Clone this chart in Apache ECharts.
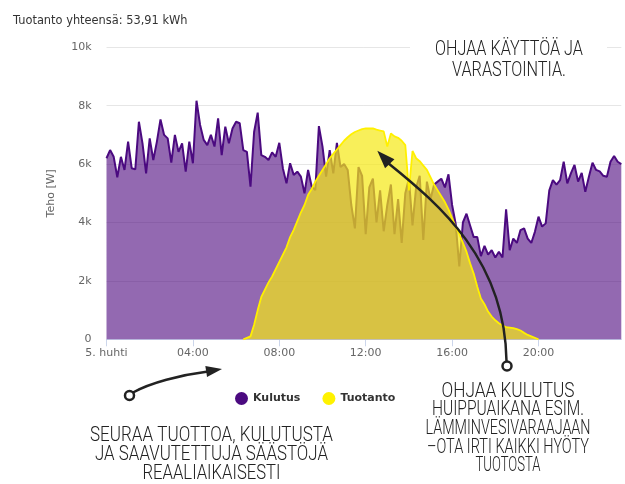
<!DOCTYPE html>
<html><head><meta charset="utf-8">
<script src="https://cdn.jsdelivr.net/npm/echarts@6/dist/echarts.min.js"></script>
<style>html,body{margin:0;padding:0;background:#fff}#c{width:625px;height:484px}</style>
</head><body><div id="c"></div>
<script>
const titleText = 'Tuotanto yhteensä: 53,91 kWh';
const yAxisName = 'Teho [W]';
const seriesNames = ['Kulutus', 'Tuotanto'];
const stepMinutes = 10;
// Kulutus (W), 10 min steps from 00:00
const kulutus = [
6200,6480,6250,5550,6250,5800,6770,5860,5820,7450,6710,5680,6880,6140,6770,7530,7000,6880,6050,7000,
6420,6710,5740,6770,6030,8170,7340,6830,6650,7000,6600,7570,6310,7280,6710,7220,7450,7400,6480,6420,
5230,7100,7760,6310,6250,6140,6400,6250,6730,5850,5340,6030,5630,5740,5570,5000,5800,5230,5110,7300,
6600,5570,6480,5680,6730,5900,6000,5800,4600,3800,5900,5600,3600,5200,5500,4000,5100,3700,4600,5300,
3600,4800,3300,5000,5500,3900,5200,5600,3400,5400,4800,5300,5400,5500,5200,5650,4600,3950,2500,4000,
4300,3900,3500,3500,2850,3200,2900,3050,2800,3000,2800,4450,3050,3450,3300,3740,3800,3450,3300,3680,
4200,3860,3970,5100,5450,5300,5450,6080,5340,5680,5970,5400,5700,5050,5570,6050,5800,5750,5600,5570,
6080,6280,6080,6000];
// Tuotanto (W)
const tuotanto = [
null,null,null,null,null,null,null,null,null,null,null,null,null,null,null,null,null,null,null,null,
null,null,null,null,null,null,null,null,null,null,null,null,null,null,null,null,null,null,0,50,
100,500,1000,1450,1700,1950,2150,2400,2650,2900,3150,3500,3750,4050,4350,4600,4950,5150,5400,5600,
5800,6000,6200,6350,6500,6650,6800,6920,7020,7100,7150,7200,7220,7220,7220,7180,7150,7120,6600,7050,
6950,6900,6800,6650,5100,6450,6200,6100,5950,5800,5550,5300,5100,4900,4700,4450,4150,3850,3600,3300,
3000,2600,2250,1800,1400,1200,950,780,650,550,470,420,400,380,350,300,220,150,100,50,
0,null,null,null,null,null,null,null,null,null,null,null,null,null,null,null,null,null,null,null,
null,null,null,null];
const xTickValues = [0, 4, 8, 12, 16, 20];
const xTickLabels = ['5. huhti', '04:00', '08:00', '12:00', '16:00', '20:00'];
const yTickValues = [0, 2000, 4000, 6000, 8000, 10000];
const yTickLabels = ['0', '2k', '4k', '6k', '8k', '10k'];

const noteTop = ['OHJAA KÄYTTÖÄ JA', 'VARASTOINTIA.'];
const noteLeft = ['SEURAA TUOTTOA, KULUTUSTA', 'JA SAAVUTETTUJA SÄÄSTÖJÄ', 'REAALIAIKAISESTI'];
const noteRight = ['OHJAA KULUTUS', 'HUIPPUAIKANA ESIM.', 'LÄMMINVESIVARAAJAAN', '–OTA IRTI KAIKKI HYÖTY', 'TUOTOSTA'];

const hours = kulutus.map((_, i) => i * stepMinutes / 60);
const kData = kulutus.map((v, i) => [hours[i], v]);
const tData = tuotanto.map((v, i) => [hours[i], v]);

const baseFont = 'DejaVu Sans';
const annoFont = '300 21px Roboto, "DejaVu Sans Condensed", sans-serif';
const mctx = document.createElement('canvas').getContext('2d');
mctx.font = annoFont;
function textLines(lines, cx, centers, widths) {
  return lines.map((t, k) => {
    const w = mctx.measureText(t).width;
    return {
      type: 'text', x: cx, y: centers[k], scaleX: widths[k] / w, z: 100,
      style: { text: t, x: 0, y: 0, align: 'center', verticalAlign: 'middle', font: annoFont, fill: '#222' }
    };
  });
}
function arrowHead(tip, from, len, half) {
  const dx = tip[0] - from[0], dy = tip[1] - from[1];
  const d = Math.hypot(dx, dy), ux = dx / d, uy = dy / d;
  const bx = tip[0] - ux * len, by = tip[1] - uy * len;
  return { type: 'polygon', z: 101, shape: { points: [tip, [bx - uy * half, by + ux * half], [bx + uy * half, by - ux * half]] }, style: { fill: '#222' } };
}

const chart = echarts.init(document.getElementById('c'), null, { renderer: 'canvas' });
chart.setOption({
  animation: false,
  backgroundColor: '#fff',
  title: {
    text: titleText, left: 8, top: 11,
    textStyle: { fontFamily: baseFont, fontSize: 11.4, fontWeight: 'normal', color: '#333' }
  },
  legend: {
    data: seriesNames, left: 230, top: 387, icon: 'circle', itemWidth: 13, itemHeight: 13, itemGap: 22,
    textStyle: { fontFamily: baseFont, fontSize: 11, fontWeight: 'bold', color: '#333' }
  },
  grid: { left: 106.5, right: 3.7, top: 47.3, bottom: 144.7 },
  xAxis: {
    type: 'value', min: 0, max: hours[hours.length - 1], interval: 4,
    axisLine: { lineStyle: { color: '#ccd6eb' } },
    axisTick: { show: true, length: 7, lineStyle: { color: '#ccd6eb' }, customValues: xTickValues },
    axisLabel: {
      customValues: xTickValues, margin: 8, color: '#666', fontFamily: baseFont, fontSize: 11,
      formatter: v => xTickLabels[xTickValues.indexOf(v)]
    },
    splitLine: { show: false }
  },
  yAxis: {
    type: 'value', min: 0, max: 10000, interval: 2000,
    name: yAxisName, nameLocation: 'middle', nameGap: 50, nameRotate: 90,
    nameTextStyle: { color: '#666', fontFamily: baseFont, fontSize: 11 },
    axisLine: { show: false }, axisTick: { show: false },
    axisLabel: { margin: 15, color: '#666', fontFamily: baseFont, fontSize: 11,
      formatter: v => yTickLabels[yTickValues.indexOf(v)] },
    splitLine: { lineStyle: { color: '#e6e6e6' } }
  },
  series: [
    {
      name: seriesNames[0], type: 'line', z: 2, data: kData, showSymbol: false, symbol: 'none',
      itemStyle: { color: '#4b0a80' },
      lineStyle: { color: '#4b0a80', width: 2 },
      areaStyle: { color: '#4b057d', opacity: 0.6 }
    },
    {
      name: seriesNames[1], type: 'line', z: 4, data: tData, showSymbol: false, symbol: 'none', connectNulls: false,
      itemStyle: { color: '#fff200' },
      lineStyle: { color: '#fff000', width: 1.8 },
      areaStyle: { color: '#f5e814', opacity: 0.7 }
    }
  ],
  graphic: [
    { type: 'rect', z: 99, shape: { x: 410, y: 35, width: 197, height: 50 }, style: { fill: '#fff' } },
    ...textLines(noteTop, 509, [49.5, 71], [148, 114]),
    ...textLines(noteLeft, 211.5, [436, 454.5, 474], [243, 233, 138]),
    ...textLines(noteRight, 508, [391.5, 410, 428.5, 447.5, 466], [133, 152, 165, 162, 65]),
    { type: 'bezierCurve', z: 100, shape: { x1: 133, y1: 392.5, cpx1: 150, cpy1: 383, cpx2: 180, cpy2: 375, x2: 208, y2: 371.5 },
      style: { stroke: '#222', lineWidth: 2.5, fill: null } },
    arrowHead([222, 369], [190, 374], 16, 5.5),
    { type: 'circle', z: 101, shape: { cx: 129.5, cy: 395.5, r: 4.5 }, style: { fill: '#fff', stroke: '#222', lineWidth: 2.5 } },
    { type: 'bezierCurve', z: 100, shape: { x1: 506.5, y1: 361, cpx1: 505, cpy1: 260, cpx2: 440, cpy2: 205, x2: 388, y2: 163 },
      style: { stroke: '#222', lineWidth: 2.5, fill: null } },
    arrowHead([377.3, 150.7], [392, 166], 18, 6.5),
    { type: 'circle', z: 101, shape: { cx: 507, cy: 366, r: 4.5 }, style: { fill: '#fff', stroke: '#222', lineWidth: 2.5 } }
  ]
});
</script></body></html>
